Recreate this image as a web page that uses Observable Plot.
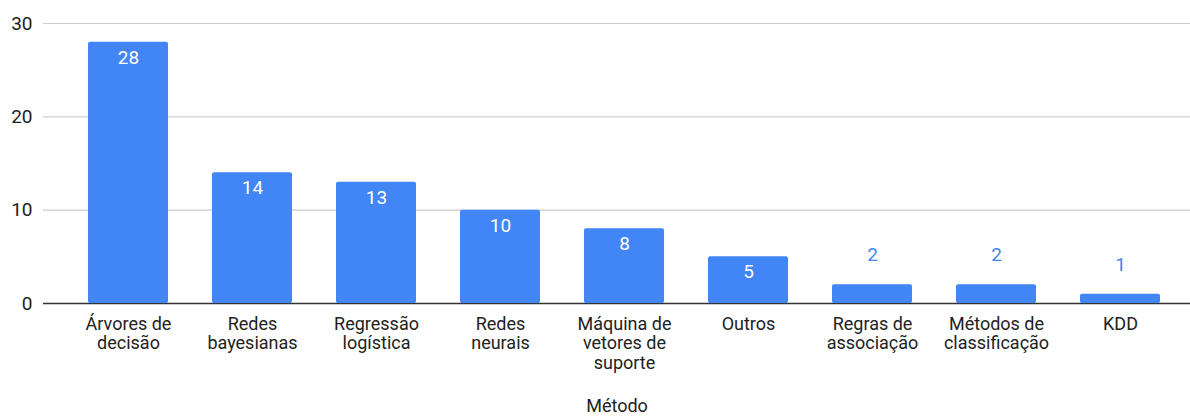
<!DOCTYPE html>
<html>
<head>
<meta charset="utf-8">
<script src="https://cdn.jsdelivr.net/npm/d3@7"></script>
<script src="https://cdn.jsdelivr.net/npm/@observablehq/plot@0.6"></script>
<style>
  html, body { margin: 0; padding: 0; background: #fff; }
  #chart svg { display: block; }
</style>
</head>
<body>
<div id="chart"></div>
<script>
const categories = ["Árvores de decisão", "Redes bayesianas", "Regressão logística", "Redes neurais", "Máquina de vetores de suporte", "Outros", "Regras de associação", "Métodos de classificação", "KDD"];
const tickLabels = ["Árvores de\ndecisão", "Redes\nbayesianas", "Regressão\nlogística", "Redes\nneurais", "Máquina de\nvetores de\nsuporte", "Outros", "Regras de\nassociação", "Métodos de\nclassificação", "KDD"];
const values = [28, 14, 13, 10, 8, 5, 2, 2, 1];
const yTicks = [0, 10, 20, 30];
const xTitle = "Método";

const data = categories.map((c, i) => ({cat: c, value: values[i]}));
const labelOf = new Map(categories.map((c, i) => [c, tickLabels[i]]));

const plot = Plot.plot({
  width: 1190,
  height: 416,
  marginLeft: 43,
  marginRight: 0,
  marginTop: 23,
  marginBottom: 113,
  style: {fontFamily: "Roboto, sans-serif", fontSize: "18px", color: "#222", background: "#fff"},
  x: {domain: categories, paddingInner: 0.357, paddingOuter: 0.29, align: 0.6},
  y: {domain: [0, 30]},
  marks: [
    Plot.ruleY(yTicks.filter(d => d !== 0), {stroke: "#ccc", strokeWidth: 1.2, strokeOpacity: 1}),
    Plot.ruleY([0], {stroke: "#333", strokeWidth: 1.5, strokeOpacity: 1}),
    Plot.barY(data, {x: "cat", y: "value", fill: "#4285F4", rx: 2}),
    Plot.text(data.filter(d => d.value >= 5), {x: "cat", y: "value", text: d => String(d.value), fill: "#fff", dy: 15.5, fontSize: 19}),
    Plot.text(data.filter(d => d.value < 5), {x: "cat", y: "value", text: d => String(d.value), fill: "#4285F4", dy: -29.5, fontSize: 19}),
    Plot.axisY({ticks: yTicks, tickSize: 0, tickPadding: 11, label: null, fontSize: 19, fill: "#222"}),
    Plot.axisX({tickSize: 0, tickPadding: 12, tickFormat: d => labelOf.get(d), lineHeight: 1.1, fontSize: 18, fill: "#222",
      label: xTitle, labelAnchor: "center", labelOffset: 108})
  ]
});
document.getElementById("chart").appendChild(plot);
</script>
</body>
</html>
